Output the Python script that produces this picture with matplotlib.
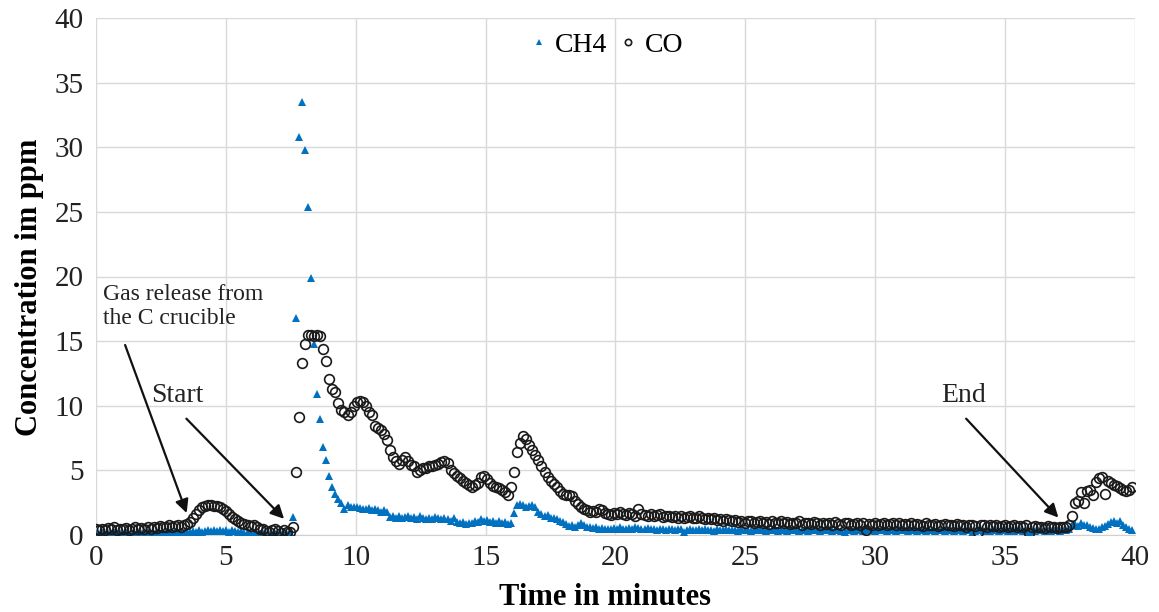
import numpy as np
import matplotlib
matplotlib.use("Agg")
import matplotlib.pyplot as plt

# sampling: one reading every 7 seconds
DT_MIN = 7 / 60

co = [
    0.45, 0.35, 0.5, 0.4, 0.55, 0.45, 0.6, 0.4, 0.5, 0.45,
    0.55, 0.4, 0.5, 0.6, 0.45, 0.55, 0.5, 0.65, 0.5, 0.6,
    0.55, 0.7, 0.6, 0.65, 0.75, 0.6, 0.7, 0.8, 0.65, 0.75,
    0.85, 1.0, 1.3, 1.65, 1.95, 2.15, 2.25, 2.3, 2.3, 2.25,
    2.25, 2.2, 2.05, 1.85, 1.6, 1.4, 1.2, 1.05, 0.95, 0.85,
    0.8, 0.7, 0.75, 0.6, 0.5, 0.45, 0.3, 0.2, 0.35, 0.45,
    0.3, 0.15, 0.4, 0.25, 0.2, 0.65, 4.9, 9.1, 13.3, 14.8,
    15.5, 15.5, 15.4, 15.5, 15.4, 14.4, 13.5, 12.1, 11.3, 11.1,
    10.2, 9.7, 9.5, 9.3, 9.5, 10.0, 10.3, 10.4, 10.3, 10.0,
    9.5, 9.3, 8.4, 8.3, 8.1, 7.8, 7.35, 6.6, 6.0, 5.7,
    5.5, 5.8, 6.0, 5.7, 5.4, 5.3, 4.9, 5.0, 5.15, 5.2,
    5.3, 5.35, 5.4, 5.5, 5.65, 5.7, 5.6, 5.0, 4.8, 4.6,
    4.4, 4.2, 4.05, 3.9, 3.7, 3.85, 4.0, 4.5, 4.6, 4.3,
    4.0, 3.8, 3.7, 3.6, 3.5, 3.3, 3.1, 3.7, 4.9, 6.4,
    7.1, 7.65, 7.45, 7.0, 6.6, 6.2, 5.8, 5.3, 4.9, 4.5,
    4.2, 3.95, 3.7, 3.4, 3.2, 3.1, 3.1, 3.0, 2.6, 2.4,
    2.2, 2.05, 1.9, 1.8, 1.85, 1.8, 2.05, 1.9, 1.7, 1.6,
    1.55, 1.7, 1.65, 1.8, 1.6, 1.55, 1.7, 1.6, 1.5, 2.05,
    1.6, 1.55, 1.5, 1.65, 1.45, 1.55, 1.6, 1.4, 1.5, 1.45,
    1.4, 1.5, 1.35, 1.45, 1.3, 1.4, 1.5, 1.35, 1.3, 1.45,
    1.3, 1.25, 1.35, 1.2, 1.3, 1.15, 1.25, 1.1, 1.2, 1.15,
    1.05, 1.15, 1.0, 1.1, 0.95, 1.05, 1.1, 0.9, 1.0, 1.05,
    0.95, 1.0, 0.85, 1.05, 0.9, 0.95, 1.1, 0.9, 1.0, 0.85,
    0.95, 0.9, 1.05, 0.8, 0.95, 0.9, 0.85, 1.0, 0.9, 0.8,
    0.95, 0.85, 0.9, 0.8, 1.0, 0.85, 0.75, 0.9, 0.95, 0.8,
    0.85, 0.9, 0.75, 0.95, 0.35, 0.85, 0.8, 0.9, 0.75, 0.85,
    0.9, 0.8, 0.85, 0.95, 0.8, 0.9, 0.75, 0.85, 0.8, 0.9,
    0.75, 0.85, 0.8, 0.7, 0.9, 0.8, 0.75, 0.85, 0.7, 0.8,
    0.85, 0.75, 0.8, 0.7, 0.85, 0.75, 0.8, 0.65, 0.75, 0.8,
    0.7, 0.2, 0.75, 0.8, 0.65, 0.75, 0.7, 0.8, 0.65, 0.7,
    0.75, 0.6, 0.7, 0.8, 0.65, 0.7, 0.6, 0.75, 0.15, 0.65,
    0.7, 0.6, 0.65, 0.55, 0.7, 0.6, 0.65, 0.55, 0.6, 0.65,
    0.6, 0.8, 1.5, 2.5, 2.6, 3.3, 2.5, 3.4, 3.5, 3.1,
    4.1, 4.4, 4.5, 3.2, 4.2, 4.0, 3.9, 3.8, 3.6, 3.5,
    3.4, 3.5, 3.7,
]

ch4 = [
    0.15, 0.1, 0.2, 0.1, 0.15, 0.05, 0.2, 0.1, 0.15, 0.1,
    0.2, 0.1, 0.15, 0.05, 0.2, 0.15, 0.1, 0.2, 0.1, 0.15,
    0.2, 0.15, 0.1, 0.2, 0.25, 0.15, 0.2, 0.1, 0.2, 0.15,
    0.25, 0.2, 0.3, 0.2, 0.35, 0.25, 0.3, 0.4, 0.3, 0.35,
    0.3, 0.4, 0.3, 0.35, 0.25, 0.35, 0.3, 0.2, 0.3, 0.15,
    0.2, 0.1, 0.15, 0.1, 0.05, 0.15, 0.1, 0.05, 0.1, 0.15,
    0.1, 0.05, 0.15, 0.1, 0.2, 1.4, 16.8, 30.8, 33.5, 29.8,
    25.4, 19.9, 14.8, 10.9, 9.0, 6.8, 5.8, 4.6, 3.7, 3.2,
    2.8, 2.45, 2.05, 2.3, 2.2, 2.15, 2.2, 2.1, 2.05, 2.0,
    2.1, 1.95, 2.0, 1.9, 1.8, 1.95, 1.8, 1.4, 1.5, 1.35,
    1.45, 1.3, 1.4, 1.5, 1.3, 1.4, 1.25, 1.45, 1.3, 1.2,
    1.35, 1.25, 1.4, 1.3, 1.2, 1.35, 1.25, 1.1, 1.3, 1.0,
    0.9, 1.0, 0.85, 0.95, 0.9, 1.1, 1.0, 1.2, 1.05, 1.15,
    1.0, 1.1, 0.95, 1.05, 0.9, 1.0, 0.85, 0.9, 1.7, 2.3,
    2.4, 2.35, 2.2, 2.25, 2.35, 2.2, 1.8, 1.65, 1.5, 1.55,
    1.35, 1.3, 1.2, 1.1, 1.0, 0.85, 0.7, 0.75, 0.65, 0.8,
    0.9, 0.75, 0.65, 0.6, 0.55, 0.6, 0.5, 0.55, 0.5, 0.45,
    0.5, 0.55, 0.45, 0.6, 0.5, 0.45, 0.55, 0.5, 0.6, 0.55,
    0.5, 0.45, 0.55, 0.5, 0.45, 0.4, 0.5, 0.45, 0.4, 0.5,
    0.45, 0.4, 0.5, 0.45, 0.25, 0.4, 0.45, 0.35, 0.4, 0.5,
    0.4, 0.45, 0.35, 0.4, 0.3, 0.45, 0.4, 0.35, 0.45, 0.4,
    0.35, 0.4, 0.3, 0.45, 0.35, 0.4, 0.3, 0.35, 0.45, 0.4,
    0.35, 0.3, 0.4, 0.35, 0.45, 0.3, 0.4, 0.35, 0.3, 0.4,
    0.45, 0.35, 0.3, 0.4, 0.35, 0.3, 0.45, 0.4, 0.35, 0.3,
    0.4, 0.35, 0.45, 0.3, 0.35, 0.4, 0.3, 0.2, 0.35, 0.4,
    0.3, 0.4, 0.35, 0.3, 0.45, 0.35, 0.4, 0.3, 0.35, 0.4,
    0.35, 0.3, 0.4, 0.35, 0.3, 0.45, 0.35, 0.4, 0.3, 0.35,
    0.4, 0.3, 0.35, 0.45, 0.3, 0.4, 0.35, 0.3, 0.4, 0.35,
    0.3, 0.4, 0.35, 0.3, 0.4, 0.35, 0.3, 0.4, 0.35, 0.15,
    0.3, 0.35, 0.4, 0.3, 0.35, 0.3, 0.4, 0.35, 0.3, 0.35,
    0.4, 0.3, 0.35, 0.3, 0.4, 0.35, 0.3, 0.35, 0.25, 0.35,
    0.3, 0.35, 0.4, 0.3, 0.35, 0.3, 0.4, 0.35, 0.3, 0.35,
    0.4, 0.5, 0.75, 0.85, 0.7, 0.9, 0.8, 0.75, 0.65, 0.55,
    0.5, 0.45, 0.6, 0.7, 0.85, 1.0, 1.1, 0.95, 1.05, 0.8,
    0.6, 0.5, 0.4,
]

t = np.arange(len(co)) * DT_MIN

x_ticks = [0, 5, 10, 15, 20, 25, 30, 35, 40]
y_ticks = [0, 5, 10, 15, 20, 25, 30, 35, 40]

plt.rcParams['font.family'] = ['Liberation Serif', 'DejaVu Serif']

fig = plt.figure(figsize=(11.59, 6.12), dpi=100)
ax = fig.add_axes([96 / 1159, 77 / 612, 1039 / 1159, 517 / 612])

ax.plot(t, ch4, linestyle='none', marker='^', ms=6, color='#0070C0',
        markeredgewidth=0, label='CH4', zorder=3)
ax.plot(t, co, linestyle='none', marker='o', ms=7, markerfacecolor='none',
        markeredgecolor='#1a1a1a', markeredgewidth=1.2, label='CO', zorder=4)

ax.set_xlim(0, 40)
ax.set_ylim(0, 40)
ax.set_xticks(x_ticks)
ax.set_yticks(y_ticks)
ax.tick_params(axis='both', length=0, labelsize=21, colors='#222222')
ax.tick_params(axis='x', pad=7)
ax.tick_params(axis='y', pad=9)
ax.grid(True, color='#d9d9d9', linewidth=1.0)
ax.set_axisbelow(True)
for s in ['top', 'right', 'left']:
    ax.spines[s].set_visible(False)
ax.spines['bottom'].set_color('#d0d0d0')

ax.set_xlabel('Time in minutes', fontsize=22, fontweight='bold')
ax.set_ylabel('Concentration im ppm', fontsize=22, fontweight='bold')
ax.xaxis.set_label_coords(0.49, -0.092)
ax.yaxis.set_label_coords(-0.05, 0.48)

leg = ax.legend(loc='center', bbox_to_anchor=(0.489, 0.948), ncol=2, frameon=False,
                fontsize=20, handletextpad=0.08, columnspacing=0.25, markerscale=0.65,
                handlelength=1.0)

arrow = dict(arrowstyle='-|>', color='#111111', lw=1.6, mutation_scale=20,
             shrinkA=0, shrinkB=0)
ax.text(0.27, 19.4, 'Gas release from\nthe C crucible', fontsize=17, ha='left', va='top',
        linespacing=1.15, color='#222222')
ax.annotate('', xy=(3.49, 1.7), xytext=(1.12, 14.7), arrowprops=arrow)
ax.text(3.12, 10.8, 'Start', fontsize=20, ha='center', va='center', color='#222222')
ax.annotate('', xy=(7.24, 1.25), xytext=(3.48, 9.0), arrowprops=arrow)
ax.text(33.4, 10.8, 'End', fontsize=20, ha='center', va='center', color='#222222')
ax.annotate('', xy=(37.05, 1.35), xytext=(33.5, 9.0), arrowprops=arrow)

fig.savefig('out.png', dpi=100)
